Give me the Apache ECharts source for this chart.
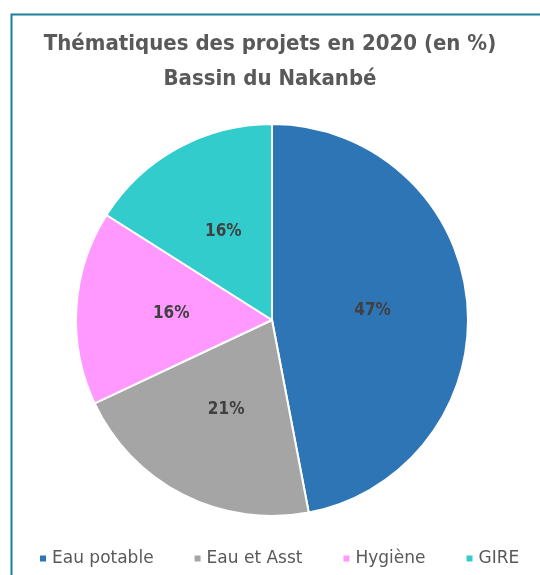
<!DOCTYPE html>
<html lang="fr">
<head>
    <meta charset="UTF-8">
    <title>Thématiques des projets en 2020</title>
    <script src="https://cdn.jsdelivr.net/npm/echarts@6/dist/echarts.min.js"></script>
    <style>
        body { margin: 0; background: #fff; }
        #chart { width: 540px; height: 575px; }
    </style>
</head>
<body>
<div id="chart"></div>
<script type="text/javascript">
    var categories = ["Eau potable", "Eau et Asst", "Hygiène", "GIRE"];
    var values = [47, 21, 16, 16];
    var colors = ["#2E75B6", "#A5A5A5", "#FF99FF", "#33CCCC"];

    var pieData = categories.map(function (name, i) {
        return { name: name, value: values[i], itemStyle: { color: colors[i] } };
    });

    var myChart = echarts.init(document.getElementById('chart'));
    var option = {
        animation: false,
        title: {
            text: "Thématiques des projets en 2020 (en %)\nBassin du Nakanbé",
            left: 'center',
            top: 22,
            textStyle: {
                fontFamily: "'Liberation Sans Narrow', 'DejaVu Sans Condensed', sans-serif",
                fontWeight: 'bold',
                fontSize: 22,
                lineHeight: 35,
                color: '#595959'
            }
        },
        graphic: [{
            type: 'rect',
            shape: { x: 11.5, y: 14.5, width: 560, height: 600 },
            style: { fill: 'none', stroke: '#1B7FA0', lineWidth: 2 },
            silent: true
        }],
        legend: {
            bottom: 3,
            left: 33,
            icon: 'rect',
            itemWidth: 8,
            itemHeight: 8,
            itemGap: 39,
            textStyle: {
                fontFamily: "'DejaVu Sans', sans-serif",
                fontSize: 17,
                color: '#595959'
            },
            data: categories
        },
        series: [{
            type: 'pie',
            center: [272, 320],
            radius: 196,
            startAngle: 90,
            clockwise: true,
            itemStyle: { borderColor: '#fff', borderWidth: 2 },
            label: {
                show: true,
                position: 'inner',
                formatter: '{c}%',
                fontFamily: "'Liberation Sans Narrow', 'DejaVu Sans Condensed', sans-serif",
                fontWeight: 'bold',
                fontSize: 17,
                color: '#404040'
            },
            labelLine: { show: false },
            data: pieData
        }]
    };
    myChart.setOption(option);
</script>
</body>
</html>
